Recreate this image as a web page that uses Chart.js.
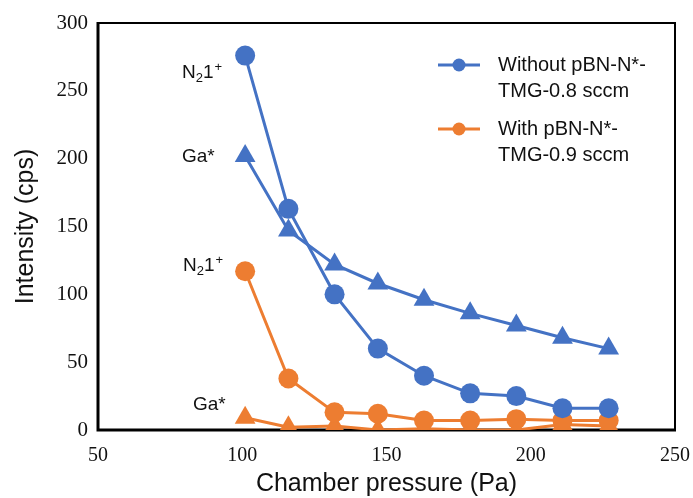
<!DOCTYPE html>
<html>
<head>
<meta charset="utf-8">
<script src="https://cdn.jsdelivr.net/npm/chart.js@4/dist/chart.umd.min.js"></script>
<style>
  html, body { margin: 0; padding: 0; background: #fff; }
  #wrap { width: 693px; height: 498px; }
</style>
</head>
<body>
<div id="wrap"><canvas id="chart" width="693" height="498"></canvas></div>
<script>
// Intensidad de emisión vs. presión de cámara
const pressure = [101, 116, 132, 147, 163, 179, 195, 211, 227];
const withoutN2 = [276, 163, 100, 60, 40, 27, 25, 16, 16];
const withoutGa = [202, 147, 122, 108, 96, 86, 77, 68, 60];
const withN2 = [117, 38, 13, 12, 7, 7, 8, 7, 7];
const withGa = [9, 2, 3, 0, 1, 0, 0, 4, 3];
const xTicks = [50, 100, 150, 200, 250];
const yTicks = [0, 50, 100, 150, 200, 250, 300];

const BLUE = "#4472C4";
const ORANGE = "#ED7D31";
const SANS = "'Liberation Sans', Arial, sans-serif";
const SERIF = "'Liberation Serif', 'Times New Roman', serif";

const legendItems = [
  { color: BLUE, lines: ["Without pBN-N*-", "TMG-0.8 sccm"] },
  { color: ORANGE, lines: ["With pBN-N*-", "TMG-0.9 sccm"] },
];

function toPoints(ys) {
  return pressure.map((x, i) => ({ x: x, y: ys[i] }));
}

function makeSet(label, ys, color, style) {
  return {
    label: label,
    data: toPoints(ys),
    borderColor: color,
    backgroundColor: color,
    borderWidth: 3,
    pointStyle: style,
    pointRadius: style === "triangle" ? 12 : 10,
    pointBorderWidth: 0,
    tension: 0,
  };
}

// N₂1⁺ con subíndice y superíndice
function drawN21(ctx, x, y) {
  ctx.font = "19px " + SANS;
  ctx.textAlign = "left";
  ctx.textBaseline = "middle";
  ctx.fillText("N", x, y);
  let w = ctx.measureText("N").width;
  ctx.font = "13px " + SANS;
  ctx.fillText("2", x + w, y + 5);
  w += ctx.measureText("2").width;
  ctx.font = "19px " + SANS;
  ctx.fillText("1", x + w, y);
  w += ctx.measureText("1").width + 1;
  ctx.font = "13px " + SANS;
  ctx.fillText("+", x + w, y - 6);
}

const framePlugin = {
  id: "frame",
  beforeDatasetsDraw(chart) {
    const { ctx, chartArea: a } = chart;
    ctx.save();
    ctx.strokeStyle = "#000";
    ctx.lineWidth = 2;
    ctx.strokeRect(a.left, a.top, a.right - a.left, a.bottom - a.top);
    ctx.lineWidth = 3;
    ctx.beginPath();
    ctx.moveTo(a.left, a.top - 1);
    ctx.lineTo(a.left, a.bottom);
    ctx.lineTo(a.right + 1, a.bottom);
    ctx.stroke();
    ctx.restore();
  },
  afterDraw(chart) {
    const { ctx, chartArea: a } = chart;
    ctx.save();
    ctx.fillStyle = "#111";

    // títulos de ejes
    ctx.font = "25px " + SANS;
    ctx.textAlign = "center";
    ctx.textBaseline = "middle";
    ctx.fillText("Chamber pressure (Pa)", (a.left + a.right) / 2, 484);
    ctx.save();
    ctx.translate(26, (a.top + a.bottom) / 2);
    ctx.rotate(-Math.PI / 2);
    ctx.fillText("Intensity (cps)", 0, 0);
    ctx.restore();

    // etiquetas de series
    drawN21(ctx, 182, 73);
    ctx.font = "19px " + SANS;
    ctx.textAlign = "left";
    ctx.fillText("Ga*", 182, 157);
    drawN21(ctx, 183, 266);
    ctx.font = "19px " + SANS;
    ctx.fillText("Ga*", 193, 405);

    // leyenda
    legendItems.forEach((item, i) => {
      const y = 65 + i * 64;
      ctx.strokeStyle = item.color;
      ctx.fillStyle = item.color;
      ctx.lineWidth = 3;
      ctx.beginPath();
      ctx.moveTo(438, y);
      ctx.lineTo(480, y);
      ctx.stroke();
      ctx.beginPath();
      ctx.arc(459, y, 6.5, 0, Math.PI * 2);
      ctx.fill();
      ctx.fillStyle = "#111";
      ctx.font = "20px " + SANS;
      item.lines.forEach((t, j) => ctx.fillText(t, 498, y + j * 26));
    });
    ctx.restore();
  },
};

new Chart(document.getElementById("chart").getContext("2d"), {
  type: "line",
  data: {
    datasets: [
      makeSet("Without N21+", withoutN2, BLUE, "circle"),
      makeSet("Without Ga*", withoutGa, BLUE, "triangle"),
      makeSet("With N21+", withN2, ORANGE, "circle"),
      makeSet("With Ga*", withGa, ORANGE, "triangle"),
    ],
  },
  options: {
    responsive: false,
    animation: false,
    layout: { padding: { top: 23, right: 18, left: 0, bottom: 0 } },
    plugins: { legend: { display: false }, tooltip: { enabled: false } },
    scales: {
      x: {
        type: "linear",
        min: 50,
        max: 250,
        afterBuildTicks: (s) => { s.ticks = xTicks.map((v) => ({ value: v })); },
        afterFit: (s) => { s.height = 68; s.paddingRight = 0; s.paddingLeft = 0; },
        grid: { display: false, drawTicks: false },
        border: { display: false },
        ticks: {
          padding: 14,
          color: "#111",
          font: { family: SERIF, size: 20 },
        },
      },
      y: {
        type: "linear",
        min: 0,
        max: 300,
        afterBuildTicks: (s) => { s.ticks = yTicks.map((v) => ({ value: v })); },
        afterFit: (s) => { s.width = 98; s.paddingTop = 0; s.paddingBottom = 0; },
        grid: { display: false, drawTicks: false },
        border: { display: false },
        ticks: {
          padding: 10,
          color: "#111",
          font: { family: SERIF, size: 21 },
        },
      },
    },
  },
  plugins: [framePlugin],
});
</script>
</body>
</html>
